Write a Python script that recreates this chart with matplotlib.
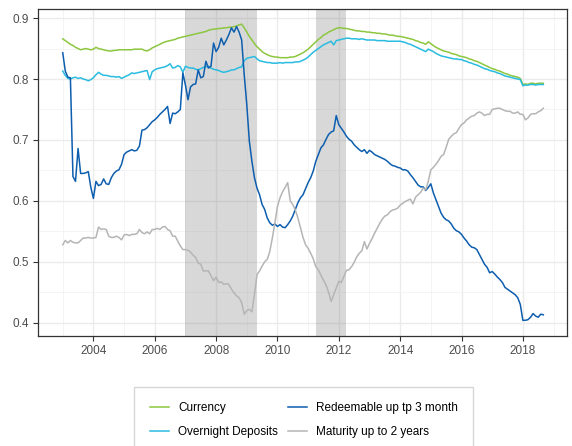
import numpy as np
import matplotlib
matplotlib.use("Agg")
import matplotlib.pyplot as plt
from matplotlib.ticker import MultipleLocator

plt.rcParams['font.family'] = ['Liberation Sans', 'DejaVu Sans']

# monthly data, Jan 2003 .. Sep 2018
currency = [
    0.866, 0.863, 0.860, 0.857, 0.855, 0.852, 0.850, 0.848, 0.849, 0.850, 0.849, 0.848,  # 2003
    0.849, 0.852, 0.850, 0.849, 0.848, 0.847, 0.846, 0.846, 0.847, 0.847, 0.848, 0.848,  # 2004
    0.848, 0.848, 0.848, 0.848, 0.849, 0.849, 0.849, 0.849, 0.847, 0.846, 0.848, 0.851,  # 2005
    0.853, 0.855, 0.857, 0.859, 0.861, 0.862, 0.863, 0.864, 0.865, 0.867, 0.868, 0.869,  # 2006
    0.870, 0.871, 0.872, 0.873, 0.874, 0.875, 0.876, 0.877, 0.878, 0.880, 0.881, 0.882,  # 2007
    0.882, 0.883, 0.883, 0.884, 0.884, 0.885, 0.885, 0.886, 0.887, 0.889, 0.890, 0.884,  # 2008
    0.877, 0.870, 0.864, 0.858, 0.853, 0.849, 0.845, 0.842, 0.840, 0.838, 0.837, 0.836,  # 2009
    0.836, 0.835, 0.835, 0.835, 0.835, 0.836, 0.836, 0.837, 0.839, 0.841, 0.843, 0.846,  # 2010
    0.849, 0.853, 0.857, 0.861, 0.865, 0.868, 0.872, 0.874, 0.877, 0.879, 0.881, 0.883,  # 2011
    0.884, 0.884, 0.883, 0.883, 0.882, 0.881, 0.880, 0.879, 0.879, 0.878, 0.878, 0.877,  # 2012
    0.877, 0.876, 0.876, 0.875, 0.875, 0.874, 0.874, 0.873, 0.872, 0.872, 0.871, 0.870,  # 2013
    0.870, 0.869, 0.868, 0.867, 0.866, 0.865, 0.863, 0.862, 0.860, 0.859, 0.857, 0.861,  # 2014
    0.858, 0.855, 0.852, 0.850, 0.848, 0.846, 0.845, 0.844, 0.842, 0.841, 0.840, 0.838,  # 2015
    0.837, 0.836, 0.835, 0.833, 0.832, 0.830, 0.829, 0.827, 0.825, 0.823, 0.821, 0.819,  # 2016
    0.817, 0.816, 0.814, 0.813, 0.811, 0.809, 0.808, 0.806, 0.805, 0.804, 0.803, 0.801,  # 2017
    0.791, 0.792, 0.791, 0.793, 0.793, 0.792, 0.793, 0.793, 0.793,                       # 2018
]

overnight = [
    0.813, 0.806, 0.801, 0.800, 0.802, 0.803, 0.801, 0.802, 0.800, 0.799, 0.797, 0.799,
    0.802, 0.807, 0.811, 0.808, 0.806, 0.806, 0.805, 0.804, 0.804, 0.803, 0.804, 0.801,
    0.803, 0.805, 0.807, 0.810, 0.809, 0.810, 0.811, 0.812, 0.813, 0.814, 0.799, 0.812,
    0.815, 0.817, 0.818, 0.819, 0.820, 0.822, 0.825, 0.818, 0.819, 0.822, 0.820, 0.811,
    0.821, 0.819, 0.818, 0.818, 0.816, 0.815, 0.817, 0.819, 0.820, 0.821, 0.818, 0.816,
    0.815, 0.814, 0.812, 0.811, 0.812, 0.813, 0.815, 0.815, 0.817, 0.819, 0.820, 0.830,
    0.834, 0.835, 0.836, 0.837, 0.833, 0.830, 0.829, 0.828, 0.827, 0.827, 0.826, 0.826,
    0.826, 0.827, 0.826, 0.827, 0.827, 0.827, 0.827, 0.828, 0.828, 0.829, 0.831, 0.833,
    0.836, 0.840, 0.844, 0.847, 0.850, 0.853, 0.856, 0.858, 0.860, 0.862, 0.856, 0.863,
    0.864, 0.865, 0.866, 0.867, 0.867, 0.866, 0.866, 0.866, 0.865, 0.866, 0.865, 0.864,
    0.864, 0.864, 0.864, 0.863, 0.863, 0.863, 0.863, 0.862, 0.862, 0.862, 0.862, 0.862,
    0.862, 0.861, 0.860, 0.858, 0.857, 0.855, 0.853, 0.851, 0.849, 0.847, 0.845, 0.849,
    0.847, 0.845, 0.842, 0.840, 0.838, 0.837, 0.836, 0.835, 0.834, 0.833, 0.833, 0.832,
    0.832, 0.830, 0.829, 0.827, 0.826, 0.824, 0.823, 0.821, 0.819, 0.817, 0.816, 0.814,
    0.813, 0.812, 0.810, 0.809, 0.807, 0.805, 0.804, 0.803, 0.802, 0.801, 0.800, 0.799,
    0.789, 0.790, 0.790, 0.791, 0.791, 0.790, 0.791, 0.791, 0.791,
]

redeemable = [
    0.843, 0.813, 0.803, 0.802, 0.640, 0.632, 0.686, 0.645, 0.645, 0.646, 0.648, 0.622,
    0.604, 0.632, 0.625, 0.627, 0.636, 0.628, 0.627, 0.638, 0.645, 0.649, 0.651, 0.660,
    0.676, 0.680, 0.682, 0.684, 0.682, 0.683, 0.690, 0.716, 0.717, 0.720, 0.725, 0.730,
    0.733, 0.737, 0.742, 0.746, 0.750, 0.755, 0.727, 0.744, 0.743, 0.746, 0.750, 0.810,
    0.790, 0.766, 0.787, 0.791, 0.792, 0.815, 0.802, 0.804, 0.829, 0.818, 0.821, 0.859,
    0.845, 0.852, 0.867, 0.856, 0.864, 0.873, 0.884, 0.877, 0.886, 0.877, 0.864, 0.807,
    0.758, 0.698, 0.665, 0.638, 0.621, 0.610, 0.594, 0.586, 0.572, 0.564, 0.560, 0.562,
    0.558, 0.561, 0.557, 0.556, 0.561, 0.567, 0.575, 0.586, 0.597, 0.605, 0.610, 0.620,
    0.630, 0.638, 0.649, 0.665, 0.676, 0.687, 0.692, 0.701, 0.709, 0.713, 0.715, 0.740,
    0.725, 0.719, 0.713, 0.706, 0.701, 0.698, 0.692, 0.688, 0.684, 0.681, 0.684, 0.678,
    0.683, 0.680, 0.676, 0.674, 0.672, 0.670, 0.668, 0.665, 0.661, 0.658, 0.657, 0.655,
    0.654, 0.651, 0.651, 0.649, 0.643, 0.638, 0.632, 0.626, 0.623, 0.623, 0.617, 0.622,
    0.628, 0.613, 0.602, 0.591, 0.580, 0.573, 0.569, 0.567, 0.562, 0.555, 0.551, 0.549,
    0.545, 0.539, 0.534, 0.528, 0.524, 0.523, 0.520, 0.512, 0.504, 0.496, 0.491, 0.482,
    0.484, 0.480, 0.475, 0.471, 0.466, 0.458, 0.455, 0.452, 0.449, 0.446, 0.441, 0.430,
    0.404, 0.404, 0.405, 0.409, 0.415, 0.411, 0.409, 0.414, 0.413,
]

maturity = [
    0.528, 0.535, 0.531, 0.535, 0.532, 0.531, 0.531, 0.535, 0.539, 0.539, 0.540, 0.539,
    0.539, 0.540, 0.557, 0.553, 0.554, 0.553, 0.542, 0.540, 0.540, 0.542, 0.540, 0.536,
    0.544, 0.545, 0.543, 0.545, 0.545, 0.546, 0.553, 0.548, 0.546, 0.549, 0.546, 0.553,
    0.553, 0.555, 0.553, 0.557, 0.558, 0.553, 0.551, 0.542, 0.542, 0.534, 0.526, 0.520,
    0.520, 0.519, 0.516, 0.511, 0.507, 0.498, 0.496, 0.485, 0.485, 0.485, 0.477, 0.469,
    0.475, 0.466, 0.467, 0.463, 0.464, 0.463, 0.455, 0.449, 0.444, 0.441, 0.433, 0.414,
    0.420, 0.422, 0.418, 0.446, 0.479, 0.485, 0.493, 0.500, 0.504, 0.517, 0.539, 0.564,
    0.591, 0.605, 0.615, 0.622, 0.630, 0.600, 0.594, 0.585, 0.572, 0.556, 0.540, 0.528,
    0.522, 0.514, 0.505, 0.492, 0.487, 0.478, 0.470, 0.462, 0.450, 0.435, 0.446, 0.457,
    0.468, 0.466, 0.476, 0.486, 0.487, 0.492, 0.499, 0.508, 0.514, 0.518, 0.533, 0.521,
    0.530, 0.538, 0.547, 0.555, 0.563, 0.570, 0.575, 0.577, 0.582, 0.585, 0.586, 0.588,
    0.593, 0.596, 0.599, 0.601, 0.603, 0.595, 0.606, 0.610, 0.614, 0.621, 0.618, 0.632,
    0.651, 0.655, 0.660, 0.666, 0.673, 0.676, 0.688, 0.701, 0.706, 0.710, 0.712, 0.719,
    0.725, 0.728, 0.733, 0.736, 0.739, 0.740, 0.744, 0.746, 0.744, 0.740, 0.742, 0.742,
    0.750, 0.751, 0.752, 0.752, 0.750, 0.748, 0.747, 0.747, 0.744, 0.744, 0.746, 0.742,
    0.742, 0.733, 0.736, 0.742, 0.743, 0.743, 0.746, 0.748, 0.752,
]

# recession periods (decimal years)
rec_start = [2007.0, 2011.25]
rec_end = [2009.33, 2012.25]

labels = ["Currency", "Overnight Deposits",
          "Redeemable up tp 3 month", "Maturity up to 2 years"]
colors = ["#8dc63f", "#29bce0", "#0d5eae", "#b5b5b5"]

t = 2003 + np.arange(len(currency)) / 12.0

fig = plt.figure(figsize=(5.72, 4.46), dpi=100)
ax = fig.add_axes([0.0673, 0.2473, 0.924, 0.7317])

for s, e in zip(rec_start, rec_end):
    ax.axvspan(s, e, color="#808080", alpha=0.3, lw=0, zorder=1)

series = [currency, overnight, redeemable, maturity]
for vals, lab, col in zip(series, labels, colors):
    ax.plot(t, vals, color=col, lw=1.1, label=lab, zorder=3)

ax.set_xlim(2002.21, 2019.44)
ax.set_ylim(0.3787, 0.9143)
ax.xaxis.set_minor_locator(MultipleLocator(1))
ax.yaxis.set_major_locator(MultipleLocator(0.1))
ax.yaxis.set_minor_locator(MultipleLocator(0.05))
ax.set_xticks(np.arange(2004, 2019, 2))
ax.set_xticklabels([str(y) for y in range(2004, 2019, 2)])

ax.grid(which="major", color="#ebebeb", lw=1.0, zorder=0)
ax.grid(which="minor", color="#f2f2f2", lw=0.6, zorder=0)
ax.set_axisbelow(True)
for sp in ax.spines.values():
    sp.set_color("#333333")
    sp.set_linewidth(0.9)
ax.tick_params(which="major", length=3.5, width=0.8, color="#333333",
               labelcolor="#4d4d4d", labelsize=8.5)
ax.tick_params(which="minor", length=0)

fig.legend(loc="upper left", bbox_to_anchor=(0.2348, 0.133), ncol=2,
           frameon=True, fancybox=False, edgecolor="#cccccc", fontsize=8.5,
           handlelength=1.6, handletextpad=0.8, columnspacing=0.85,
           labelspacing=1.05, borderpad=1.3, borderaxespad=0)

fig.savefig("out.png", dpi=100)
